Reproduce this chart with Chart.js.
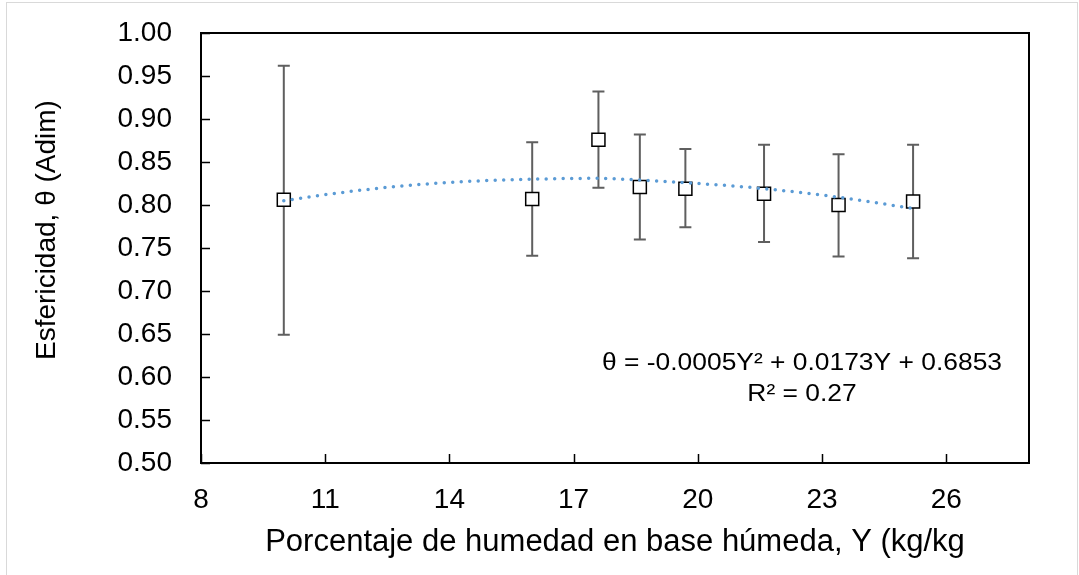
<!DOCTYPE html>
<html lang="es">
<head>
    <meta charset="UTF-8">
    <title>Esfericidad vs humedad</title>
    <script src="https://cdn.jsdelivr.net/npm/chart.js"></script>
    <style>
        * {
            margin: 0;
            padding: 0;
            box-sizing: border-box;
        }

        body {
            width: 1079px;
            height: 575px;
            background: #fff;
            overflow: hidden;
            position: relative;
        }

        /* light frame of the chart object */
        .frame {
            position: absolute;
            left: 6px;
            top: 2px;
            width: 1072px;
            height: 580px;
            border: 1px solid #d9d9d9;
        }

        .wrap {
            position: absolute;
            left: 0;
            top: 0;
            width: 1079px;
            height: 575px;
        }
    </style>
</head>
<body>
    <div class="frame"></div>
    <div class="wrap">
        <canvas id="esfChart" width="1079" height="575"></canvas>
    </div>

    <script>
        // measured points (moisture %, sphericity) and error bar ends
        const humedad = [10, 16, 17.6, 18.6, 19.7, 21.6, 23.4, 25.2];
        const esfericidad = [0.806, 0.807, 0.876, 0.821, 0.819, 0.813, 0.800, 0.804];
        const errSup = [0.962, 0.873, 0.932, 0.882, 0.865, 0.870, 0.859, 0.870];
        const errInf = [0.649, 0.741, 0.820, 0.760, 0.774, 0.757, 0.740, 0.738];

        // polynomial trendline
        const trendX = [10, 11, 12.6, 14.3, 16, 17.6, 18.6, 19.7, 21.6, 23.4, 25.2];
        const trendY = [0.805, 0.812, 0.821, 0.827, 0.830, 0.831, 0.829, 0.826, 0.819, 0.809, 0.796];

        const xTicks = [8, 11, 14, 17, 20, 23, 26];
        const yTicks = [0.50, 0.55, 0.60, 0.65, 0.70, 0.75, 0.80, 0.85, 0.90, 0.95, 1.00];

        const fontFam = "'Liberation Sans', Arial, sans-serif";

        // error bars under the markers
        const errorBars = {
            id: 'errorBars',
            beforeDatasetsDraw(chart) {
                const ctx = chart.ctx;
                const xs = chart.scales.x, ys = chart.scales.y;
                ctx.save();
                ctx.strokeStyle = '#5f5f5f';
                ctx.lineWidth = 2;
                for (let i = 0; i < humedad.length; i++) {
                    const px = xs.getPixelForValue(humedad[i]);
                    const top = ys.getPixelForValue(errSup[i]);
                    const bot = ys.getPixelForValue(errInf[i]);
                    ctx.beginPath();
                    ctx.moveTo(px, top);
                    ctx.lineTo(px, bot);
                    ctx.moveTo(px - 6, top);
                    ctx.lineTo(px + 6, top);
                    ctx.moveTo(px - 6, bot);
                    ctx.lineTo(px + 6, bot);
                    ctx.stroke();
                }
                ctx.restore();
            }
        };

        // box around plot area, inner tick marks, y title, equation text
        const plotFrame = {
            id: 'plotFrame',
            afterDraw(chart) {
                const ctx = chart.ctx;
                const a = chart.chartArea;
                const xs = chart.scales.x, ys = chart.scales.y;
                ctx.save();
                ctx.strokeStyle = '#000';
                ctx.lineWidth = 2;
                ctx.strokeRect(a.left, a.top, a.right - a.left, a.bottom - a.top);

                ctx.lineWidth = 1.5;
                ctx.beginPath();
                yTicks.forEach(v => {
                    const py = Math.round(ys.getPixelForValue(v)) + 0.5;
                    ctx.moveTo(a.left, py);
                    ctx.lineTo(a.left + 9, py);
                });
                xTicks.forEach(v => {
                    const px = Math.round(xs.getPixelForValue(v)) + 0.5;
                    ctx.moveTo(px, a.bottom);
                    ctx.lineTo(px, a.bottom - 9);
                });
                ctx.stroke();

                ctx.fillStyle = '#000';

                // y axis title
                ctx.save();
                ctx.translate(47, 230);
                ctx.rotate(-Math.PI / 2);
                ctx.font = '28px ' + fontFam;
                ctx.textAlign = 'center';
                ctx.textBaseline = 'middle';
                ctx.fillText('Esfericidad, \u03B8 (Adim)', 0, 0);
                ctx.restore();

                // trendline equation
                ctx.save();
                ctx.translate(802, 0);
                ctx.scale(1.1, 1);
                ctx.font = '24px ' + fontFam;
                ctx.textAlign = 'center';
                ctx.textBaseline = 'alphabetic';
                ctx.fillText('\u03B8 = -0.0005Y\u00B2 + 0.0173Y + 0.6853', 0, 370);
                ctx.fillText('R\u00B2 = 0.27', 0, 401);
                ctx.restore();
                ctx.restore();
            }
        };

        var ctx1 = document.getElementById('esfChart').getContext('2d');
        var esfChart = new Chart(ctx1, {
            type: 'scatter',
            data: {
                datasets: [{
                    label: 'Tendencia',
                    data: trendX.map((x, i) => ({ x: x, y: trendY[i] })),
                    showLine: true,
                    borderColor: '#5b9bd5',
                    borderWidth: 3.5,
                    borderDash: [0, 8.5],
                    borderCapStyle: 'round',
                    cubicInterpolationMode: 'monotone',
                    pointRadius: 0,
                    fill: false
                }, {
                    label: 'Esfericidad',
                    data: humedad.map((x, i) => ({ x: x, y: esfericidad[i] })),
                    pointStyle: 'rect',
                    pointRadius: 9.2,
                    pointHoverRadius: 9.2,
                    borderColor: '#000',
                    borderWidth: 1.5,
                    backgroundColor: '#fff'
                }]
            },
            options: {
                responsive: false,
                animation: false,
                layout: {
                    padding: { left: 0, top: 33, right: 50, bottom: 0 }
                },
                plugins: {
                    legend: { display: false },
                    tooltip: { enabled: false }
                },
                scales: {
                    x: {
                        type: 'linear',
                        min: 8,
                        max: 28,
                        afterBuildTicks(scale) {
                            scale.ticks = xTicks.map(v => ({ value: v }));
                        },
                        afterFit(scale) {
                            scale.height = 112;
                            scale.paddingLeft = 0;
                            scale.paddingRight = 0;
                        },
                        grid: { display: false, drawTicks: false },
                        border: { display: true, color: '#000', width: 2 },
                        ticks: {
                            color: '#000',
                            padding: 20,
                            font: { family: fontFam, size: 28 }
                        },
                        title: {
                            display: true,
                            text: 'Porcentaje de humedad en base húmeda, Y (kg/kg',
                            color: '#000',
                            font: { family: fontFam, size: 31 },
                            padding: { top: 4, bottom: 14 }
                        }
                    },
                    y: {
                        type: 'linear',
                        min: 0.5,
                        max: 1.0,
                        afterBuildTicks(scale) {
                            scale.ticks = yTicks.map(v => ({ value: v }));
                        },
                        afterFit(scale) {
                            scale.width = 201;
                            scale.paddingTop = 0;
                            scale.paddingBottom = 0;
                        },
                        grid: { display: false, drawTicks: false },
                        border: { display: true, color: '#000', width: 2 },
                        ticks: {
                            color: '#000',
                            padding: 29,
                            font: { family: fontFam, size: 28 },
                            callback: v => v.toFixed(2)
                        }
                    }
                }
            },
            plugins: [errorBars, plotFrame]
        });
    </script>
</body>
</html>
